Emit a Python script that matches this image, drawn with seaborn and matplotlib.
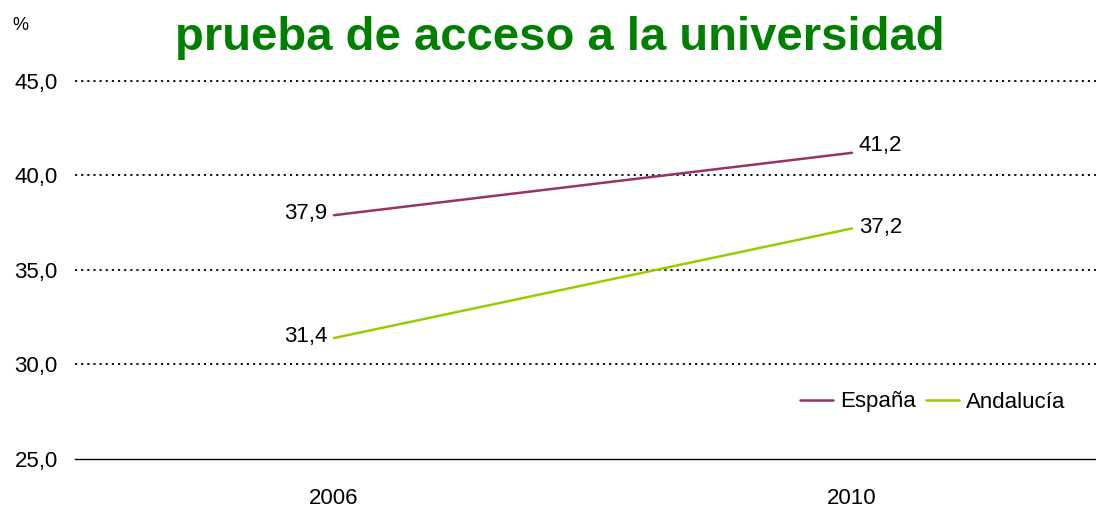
import matplotlib
matplotlib.use("Agg")
import matplotlib.pyplot as plt
import seaborn as sns
import pandas as pd

years = ["2006", "2010"]
espana = [37.9, 41.2]
andalucia = [31.4, 37.2]
series_names = ["España", "Andalucía"]
colors = ["#993366", "#99CC00"]
yticks = [25, 30, 35, 40, 45]

sns.set_theme(style="white")
plt.rcParams['font.family'] = ['Liberation Sans', 'DejaVu Sans']
plt.rcParams['text.color'] = 'black'

df = pd.DataFrame({
    "year": years * 2,
    "value": espana + andalucia,
    "serie": [series_names[0]] * 2 + [series_names[1]] * 2,
})
df["x"] = [0, 1, 0, 1]

FS = 16

fig = plt.figure(figsize=(10.96, 5.09), dpi=100)
ax = fig.add_axes([75 / 1096, 1 - 459 / 509, 1036 / 1096, 378 / 509])

sns.lineplot(data=df, x="x", y="value", hue="serie", palette=colors,
             linewidth=1.8, ax=ax, legend=True)

ax.set_xlim(-0.5, 1.5)
ax.set_ylim(25, 45)
ax.set_xticks([0, 1])
ax.set_xticklabels(years, fontsize=FS, color="black")
ax.set_yticks(yticks)
ax.set_yticklabels([f"{v:.1f}".replace(".", ",") for v in yticks], fontsize=FS, color="black")
ax.tick_params(axis="x", length=0, pad=21)
ax.tick_params(axis="y", length=0, pad=12.5)
ax.set_xlabel("")
ax.set_ylabel("")

for v in yticks[1:]:
    ax.axhline(v, color="black", linestyle=(0, (1.2, 2.2)), linewidth=1.3, zorder=0, clip_on=False)

for s in ["top", "right", "left"]:
    ax.spines[s].set_visible(False)
ax.spines["bottom"].set_color("black")
ax.spines["bottom"].set_linewidth(1.0)

def fmt(v):
    return f"{v:.1f}".replace(".", ",")

for vals, dy in ((espana, 5), (andalucia, 1)):
    ax.annotate(fmt(vals[0]), (0, vals[0]), xytext=(-5, 1), textcoords="offset points",
                ha="right", va="center", fontsize=FS, color="black")
    ax.annotate(fmt(vals[1]), (1, vals[1]), xytext=(5, dy), textcoords="offset points",
                ha="left", va="center", fontsize=FS, color="black")

leg = ax.legend(loc="center left", bbox_to_anchor=(800 / 1096, 1 - 402 / 509),
                bbox_transform=fig.transFigure, ncol=2, frameon=False,
                fontsize=FS, handlelength=1.5, handletextpad=0.3, columnspacing=0.45,
                borderaxespad=0, borderpad=0)
for t in leg.get_texts():
    t.set_color("black")

fig.text(560 / 1096, 1 - 50 / 509, "prueba de acceso a la universidad", ha="center",
         va="baseline", fontsize=34, fontweight="bold", color="#008000")
fig.text(12 / 1096, 1 - 30 / 509, "%", ha="left", va="baseline", fontsize=13, color="black")

fig.savefig("out.png", dpi=100)
